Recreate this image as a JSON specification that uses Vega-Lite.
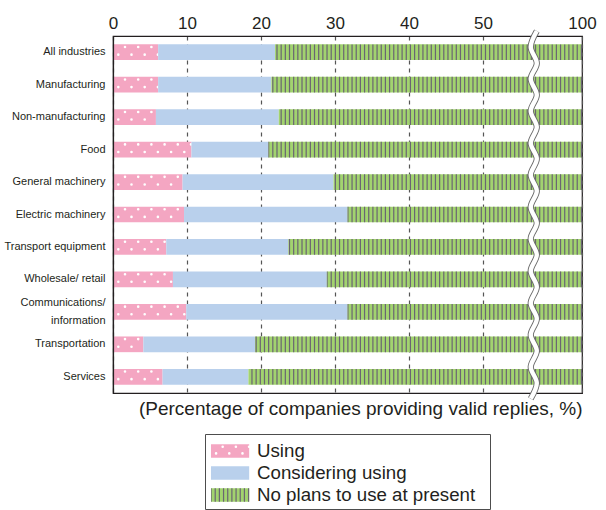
{
  "$schema": "https://vega.github.io/schema/vega-lite/v6.json",
  "background": "white",
  "padding": {"left": 3, "top": 13, "right": 4, "bottom": 0},
  "config": {
    "font": "Liberation Sans",
    "view": {"stroke": null},
    "axis": {"labelColor": "#231f20", "titleColor": "#231f20", "domainColor": "#231f20"}
  },
  "datasets": {
    "shares": [
      {"industry": "All industries", "using": 6.1, "considering": 15.8, "no_plans": 78.1},
      {"industry": "Manufacturing", "using": 6.1, "considering": 15.3, "no_plans": 78.6},
      {"industry": "Non-manufacturing", "using": 5.8, "considering": 16.6, "no_plans": 77.6},
      {"industry": "Food", "using": 10.6, "considering": 10.4, "no_plans": 79.0},
      {"industry": "General machinery", "using": 9.4, "considering": 20.4, "no_plans": 70.2},
      {"industry": "Electric machinery", "using": 9.6, "considering": 22.1, "no_plans": 68.3},
      {"industry": "Transport equipment", "using": 7.2, "considering": 16.5, "no_plans": 76.3},
      {"industry": "Wholesale/ retail", "using": 8.1, "considering": 20.8, "no_plans": 71.1},
      {"industry": "Communications/ information", "using": 9.9, "considering": 21.8, "no_plans": 68.3},
      {"industry": "Transportation", "using": 4.1, "considering": 15.1, "no_plans": 80.8},
      {"industry": "Services", "using": 6.7, "considering": 11.6, "no_plans": 81.7}
    ],
    "wave": [
      {"wy": -0.014, "wx": 57.27}, {"wy": 0.031, "wx": 56.45}, {"wy": 0.076, "wx": 57.27},
      {"wy": 0.120, "wx": 56.45}, {"wy": 0.165, "wx": 57.27}, {"wy": 0.210, "wx": 56.45},
      {"wy": 0.255, "wx": 57.27}, {"wy": 0.300, "wx": 56.45}, {"wy": 0.344, "wx": 57.27},
      {"wy": 0.389, "wx": 56.45}, {"wy": 0.434, "wx": 57.27}, {"wy": 0.479, "wx": 56.45},
      {"wy": 0.524, "wx": 57.27}, {"wy": 0.568, "wx": 56.45}, {"wy": 0.613, "wx": 57.27},
      {"wy": 0.658, "wx": 56.45}, {"wy": 0.703, "wx": 57.27}, {"wy": 0.748, "wx": 56.45},
      {"wy": 0.792, "wx": 57.27}, {"wy": 0.837, "wx": 56.45}, {"wy": 0.882, "wx": 57.27},
      {"wy": 0.927, "wx": 56.45}, {"wy": 0.972, "wx": 57.27}, {"wy": 1.016, "wx": 56.45}
    ],
    "legend": [
      {"status": "Using"},
      {"status": "Considering using"},
      {"status": "No plans to use at present"}
    ]
  },
  "vconcat": [
    {
      "width": 469,
      "height": 357,
      "view": {"stroke": "#231f20", "strokeWidth": 1.2},
      "layer": [
        {
          "data": {"name": "shares"},
          "transform": [
            {"fold": ["using", "considering", "no_plans"], "as": ["status", "share"]},
            {"stack": "share", "groupby": ["industry"], "as": ["x0", "x1"]}
          ],
          "encoding": {
            "y": {
              "field": "industry",
              "type": "nominal",
              "scale": {
                "domain": ["All industries", "Manufacturing", "Non-manufacturing", "Food", "General machinery", "Electric machinery", "Transport equipment", "Wholesale/ retail", "Communications/ information", "Transportation", "Services"],
                "paddingInner": 0.516,
                "paddingOuter": 0.258
              },
              "axis": {
                "title": null,
                "ticks": false,
                "domainWidth": 1.2,
                "labelFontSize": 11,
                "labelPadding": 8,
                "labelLimit": 200,
                "labelLineHeight": 17.5,
                "labelExpr": "datum.value == 'Communications/ information' ? ['Communications/', 'information'] : datum.label",
                "labelOffset": {"condition": {"test": "datum.value == 'Communications/ information'", "value": -8.75}, "value": 0},
                "zindex": 1
              }
            },
            "x": {
              "field": "x0",
              "type": "quantitative",
              "scale": {"domain": [0, 58, 100], "range": [0, 429.2, 469], "nice": false, "zero": false},
              "axis": {
                "orient": "top",
                "values": [0, 10, 20, 30, 40, 50, 100],
                "title": null,
                "ticks": false,
                "domainWidth": 1.2,
                "labelFontSize": 17,
                "labelPadding": 4,
                "labelFlush": false,
                "labelOverlap": false,
                "grid": true,
                "gridDash": [4, 4],
                "gridColor": "#555555",
                "gridWidth": 1.2
              }
            },
            "x2": {"field": "x1"}
          },
          "layer": [
            {
              "transform": [{"filter": "datum.status == 'using'"}],
              "mark": {"type": "bar", "color": "#f4a6c2"}
            },
            {
              "transform": [{"filter": "datum.status == 'using'"}],
              "mark": {"type": "rule", "stroke": "white", "strokeWidth": 2.6, "strokeCap": "round", "strokeDash": [0, 13.2], "strokeDashOffset": 1.2, "yOffset": -5.2}
            },
            {
              "transform": [{"filter": "datum.status == 'using'"}],
              "mark": {"type": "rule", "stroke": "white", "strokeWidth": 2.6, "strokeCap": "round", "strokeDash": [0, 13.2], "strokeDashOffset": 7.9, "yOffset": 2.4}
            },
            {
              "transform": [{"filter": "datum.status == 'considering'"}],
              "mark": {"type": "bar", "color": "#b9d0ec"}
            },
            {
              "transform": [{"filter": "datum.status == 'no_plans'"}],
              "mark": {"type": "bar", "color": "#a2d36f"}
            },
            {
              "transform": [{"filter": "datum.status == 'no_plans'"}],
              "mark": {"type": "rule", "stroke": "#6a6572", "strokeWidth": 15.7, "strokeCap": "butt", "strokeDash": [1.2, 2.97]},
              "encoding": {
                "x": {"field": "x1", "type": "quantitative"},
                "x2": {"field": "x0"}
              }
            }
          ]
        },
        {
          "data": {"name": "wave"},
          "encoding": {
            "x": {
              "field": "wx",
              "type": "quantitative",
              "scale": {"domain": [0, 58, 100], "range": [0, 429.2, 469], "nice": false, "zero": false},
              "axis": {
                "orient": "bottom",
                "title": "(Percentage of companies providing valid replies, %)",
                "titleAnchor": "end",
                "titleFontSize": 19,
                "titleFontWeight": "normal",
                "titlePadding": 6,
                "labels": false,
                "ticks": false,
                "grid": false,
                "domainWidth": 1.2
              }
            },
            "y": {
              "field": "wy",
              "type": "quantitative",
              "scale": {"domain": [0, 1], "nice": false, "zero": false, "reverse": true},
              "axis": null
            },
            "order": {"field": "wy", "type": "quantitative"}
          },
          "layer": [
            {"mark": {"type": "line", "interpolate": "cardinal", "stroke": "#6b6b6b", "strokeWidth": 6.2}},
            {"mark": {"type": "line", "interpolate": "cardinal", "stroke": "white", "strokeWidth": 4.4}}
          ]
        }
      ],
      "resolve": {"scale": {"y": "independent"}, "axis": {"x": "independent", "y": "independent"}}
    },
    {
      "width": 285,
      "height": 75,
      "view": {"stroke": "#4d4d4d", "strokeWidth": 1},
      "data": {"name": "legend"},
      "encoding": {
        "y": {
          "field": "status",
          "type": "nominal",
          "scale": {
            "domain": ["Using", "Considering using", "No plans to use at present"],
            "paddingInner": 0.39,
            "paddingOuter": 0.4,
            "align": 0.585
          },
          "axis": null
        },
        "x": {
          "datum": 2.1,
          "type": "quantitative",
          "scale": {"domain": [0, 100], "nice": false, "zero": false},
          "axis": null
        },
        "x2": {"datum": 15.5}
      },
      "layer": [
        {
          "mark": {"type": "bar"},
          "encoding": {
            "color": {
              "field": "status",
              "type": "nominal",
              "scale": {
                "domain": ["Using", "Considering using", "No plans to use at present"],
                "range": ["#f4a6c2", "#b9d0ec", "#a2d36f"]
              },
              "legend": null
            }
          }
        },
        {
          "transform": [{"filter": "datum.status == 'Using'"}],
          "mark": {"type": "rule", "stroke": "white", "strokeWidth": 2.6, "strokeCap": "round", "strokeDash": [0, 13.2], "strokeDashOffset": 1.5, "yOffset": -4.3}
        },
        {
          "transform": [{"filter": "datum.status == 'Using'"}],
          "mark": {"type": "rule", "stroke": "white", "strokeWidth": 2.6, "strokeCap": "round", "strokeDash": [0, 13.2], "strokeDashOffset": 8.1, "yOffset": 2.4}
        },
        {
          "transform": [{"filter": "datum.status == 'No plans to use at present'"}],
          "mark": {"type": "rule", "stroke": "#6a6572", "strokeWidth": 13.4, "strokeCap": "butt", "strokeDash": [1.2, 2.97]},
          "encoding": {
            "x": {"datum": 15.5, "type": "quantitative"},
            "x2": {"datum": 2.1}
          }
        },
        {
          "mark": {"type": "text", "align": "left", "baseline": "middle", "fontSize": 18.7, "color": "#231f20"},
          "encoding": {
            "x": {"datum": 18.25, "type": "quantitative"},
            "text": {"field": "status"}
          }
        }
      ]
    }
  ],
  "spacing": 41,
  "bounds": "flush",
  "center": true,
  "resolve": {"scale": {"x": "independent", "y": "independent", "color": "independent"}}
}
